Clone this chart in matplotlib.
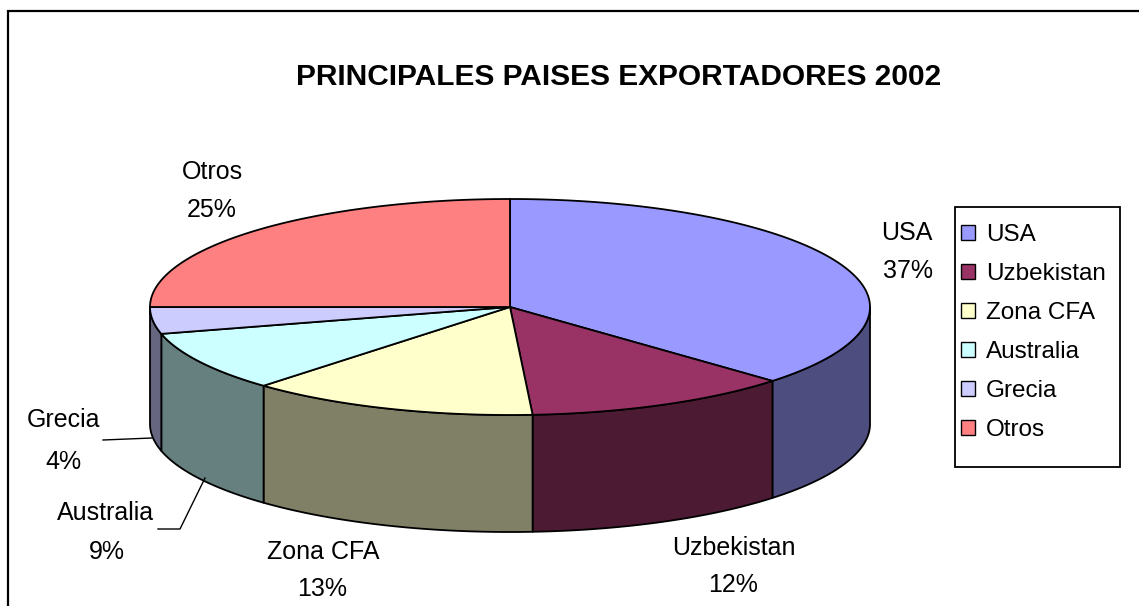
import numpy as np
import matplotlib
matplotlib.use("Agg")
import matplotlib.pyplot as plt
from matplotlib.patches import Polygon, Patch, Rectangle
from matplotlib.lines import Line2D

# ---- data ----
categories = ["USA", "Uzbekistan", "Zona CFA", "Australia", "Grecia", "Otros"]
values = [37, 12, 13, 9, 4, 25]
top_colors = ["#9999FF", "#993366", "#FFFFCC", "#CCFFFF", "#CCCCFF", "#FF8080"]
side_colors = ["#4D4D80", "#4C1A33", "#808066", "#668080", "#666680", "#804040"]
title = "PRINCIPALES PAISES EXPORTADORES 2002"

# label anchor positions (name line, percent line), in pixels
label_pos = {
    "USA": ((907, 233), (908, 271)),
    "Uzbekistan": ((734, 548), (733, 585)),
    "Zona CFA": ((323, 552), (322, 589)),
    "Australia": ((106, 513), (107, 552)),
    "Grecia": ((63, 420), (63, 462)),
    "Otros": ((212, 172), (212, 210)),
}

W, H = 1139, 606
plt.rcParams["font.family"] = ["Liberation Sans", "DejaVu Sans"]
fig = plt.figure(figsize=(W / 100, H / 100), dpi=100)
ax = fig.add_axes([0, 0, 1, 1])
ax.set_xlim(0, W)
ax.set_ylim(H, 0)
ax.axis("off")

# outer chart frame
ax.plot([8, 8, W + 5], [H + 5, 11, 11], color="black", lw=1.6, solid_joinstyle="miter")

# pie geometry
cx, cy, rx, ry, depth = 510, 307, 360, 108, 117


def ell(phi_deg):
    p = np.radians(phi_deg)
    return cx + rx * np.sin(p), cy - ry * np.cos(p)


total = float(sum(values))
bounds = np.concatenate([[0], np.cumsum(values)]) / total * 360.0

# side faces
for i in range(len(values)):
    a0, a1 = bounds[i], bounds[i + 1]
    s0, s1 = max(a0, 90), min(a1, 270)
    if s1 <= s0:
        continue
    ph = np.linspace(s0, s1, 100)
    xs, ys = ell(ph)
    pts = np.column_stack([np.concatenate([xs, xs[::-1]]),
                           np.concatenate([ys, ys[::-1] + depth])])
    ax.add_patch(Polygon(pts, closed=True, facecolor=side_colors[i],
                         edgecolor="black", lw=1.3, joinstyle="round"))

# top faces
for i in range(len(values)):
    a0, a1 = bounds[i], bounds[i + 1]
    ph = np.linspace(a0, a1, 200)
    xs, ys = ell(ph)
    pts = np.column_stack([np.concatenate([[cx], xs]), np.concatenate([[cy], ys])])
    ax.add_patch(Polygon(pts, closed=True, facecolor=top_colors[i],
                         edgecolor="black", lw=1.3, joinstyle="round"))

# data labels
for cat, v in zip(categories, values):
    (x1, y1), (x2, y2) = label_pos[cat]
    ax.text(x1, y1, cat, ha="center", va="center", fontsize=18)
    ax.text(x2, y2, f"{v}%", ha="center", va="center", fontsize=18)

# leader lines
ax.add_line(Line2D([103, 152], [440, 438], color="black", lw=1.0))
ax.add_line(Line2D([158, 180, 205], [529, 529, 478], color="black", lw=1.0))

# title
ax.text(619, 77, title, ha="center", va="center", fontsize=21.5, fontweight="bold")

# legend box
ax.add_patch(Rectangle((955, 207), 165, 260, facecolor="white",
                       edgecolor="black", lw=1.3, zorder=3))
handles = [Patch(facecolor=c, edgecolor="black", lw=1.0) for c in top_colors]
leg = fig.legend(handles, categories, loc="upper left",
                 bbox_to_anchor=(961 / W, 1 - 224 / H),
                 fontsize=17.5, frameon=False,
                 handlelength=0.58, handleheight=0.58, handletextpad=0.45,
                 labelspacing=0.70, borderpad=0.0, borderaxespad=0)
leg.set_zorder(5)

fig.savefig("out.png", dpi=100)
